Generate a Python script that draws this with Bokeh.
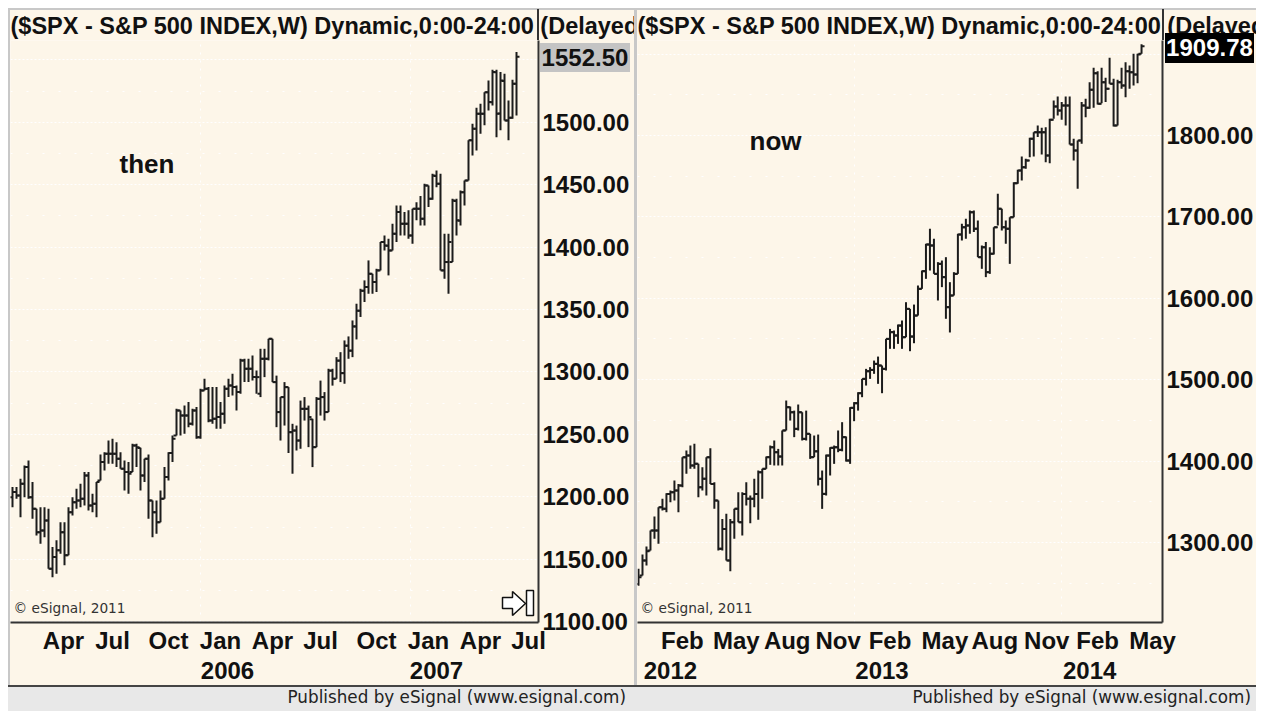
from bokeh.embed import file_html
from bokeh.resources import INLINE
from bokeh.plotting import figure
from bokeh.layouts import row, column
from bokeh.models import (ColumnDataSource, Div, FixedTicker, Label, LinearAxis,
                          Range1d, NumeralTickFormatter, Title)

# ---------- Left chart: S&P 500 weekly bars, Feb 2005 - Jun 2007 ----------
then_high = [1207.7,1207.7,1214.3,1225,1229,1211.7,1190.3,1191.6,1191.6,1190.3,1159.6,1165,1179.6,1179.6,1191.6,1199.6,1206.3,1210.3,1219.7,1219.7,
 1202.3,1211.7,1233.8,1235.7,1245,1246.4,1243.7,1235.7,1229,1227.7,1242.4,1242.4,1239.2,1230.4,1233.8,1197,1197,1205,1223.7,1235.7,
 1249,1270.4,1269,1273,1275.8,1270.4,1271.8,1286.5,1294.5,1287.8,1287.8,1287.8,1275.8,1289,1294.5,1298.5,1289,1310.5,1310.5,1310.5,
 1313.2,1301.1,1318.5,1318.5,1326.5,1326.5,1297,1279.8,1291.8,1287.8,1258.4,1257,1277,1279.8,1273,1262.4,1279.8,1293,1283.8,1302.5,
 1302.5,1311.8,1315.8,1325.2,1328.4,1341.2,1354.6,1366.6,1373.3,1389.3,1378.6,1382.6,1404,1409.3,1406.7,1418.7,1433.4,1433.4,1428,1429.4,
 1430.7,1436,1440.9,1450.7,1449.4,1458.7,1461.4,1458.7,1410.7,1410.7,1438.7,1438.7,1445.4,1453.4,1485.5,1498.8,1511.6,1514.8,1524,1533.5,
 1542,1542,1540.2,1538.9,1517.5,1534,1556.2]
then_low = [1191.6,1198.3,1183.6,1199.6,1198.3,1182.3,1169,1162.3,1167.6,1142.2,1135.5,1138.2,1154.2,1145,1153,1185,1190.3,1191.6,1193,1189,
 1187.6,1183.6,1213,1221,1226.4,1226.4,1223.7,1222.4,1205,1202.3,1219.7,1223.7,1205,1211.7,1182.3,1167.6,1170.3,1179.6,1198.3,1213,
 1227.7,1249,1249,1250.4,1255.7,1257,1246.4,1246.4,1285,1259.7,1258.4,1254.4,1254.4,1258.4,1279.8,1281,1269,1282.5,1291.8,1291.8,
 1293.1,1282.5,1279.8,1295.8,1309.2,1291.8,1255.7,1245,1257,1235,1218.4,1237,1238.4,1261,1239.7,1223.7,1239.7,1265,1261,1267.8,
 1289,1294.5,1291.8,1290.5,1310.5,1311.8,1326,1344,1356,1362.6,1362.6,1364,1381.3,1397.3,1377.3,1397.3,1404,1409.3,1409.3,1406.7,
 1402.7,1421.4,1417.3,1417.3,1432,1438,1448,1381.3,1374.6,1362.6,1388,1409.3,1417.3,1433.4,1453.4,1473.4,1477.4,1490.8,1497.5,1509.5,
 1513.5,1488,1493.5,1501.5,1485.5,1502.8,1505.5]
then_open = [1199.6,1203.7,1201,1210.3,1223.7,1199.6,1190.3,1171.6,1173,1181,1142.2,1151.6,1157,1171.6,1153,1187.6,1195.6,1197,1198.3,1217,
 1193,1194.3,1213,1227.7,1234.4,1234.4,1234.4,1230.4,1222.4,1219.7,1219.7,1241,1239,1217,1230.4,1197,1187.6,1179.6,1198.3,1215.7,
 1235,1249,1269,1265,1265,1258.4,1269,1247.7,1285,1286.5,1261,1262.4,1263.8,1266.4,1286.5,1289,1287.8,1283.8,1309.2,1302.5,
 1302.5,1295.8,1282.5,1310.5,1310.5,1326.5,1291.8,1267.8,1279.8,1287.8,1251.7,1253,1245,1270.4,1270.4,1262,1239.7,1278.4,1279.8,1267.8,
 1301,1294.5,1309,1299,1321,1317,1336.4,1349,1365,1368,1378.6,1372,1381.3,1404,1401,1397.3,1410.7,1428,1418.7,1418.7,
 1409.3,1430.7,1430.7,1422.7,1449.4,1438.7,1457,1450.7,1381.3,1388,1388,1437,1421,1444,1453.4,1485.5,1494.8,1506.8,1506.8,1524,
 1516,1540,1507,1533,1501.5,1503.6,1530.9]
then_close = [1203.7,1201,1210.3,1223.7,1199.6,1190.3,1171.6,1173,1181,1142.2,1151.6,1157,1171.6,1153,1187.6,1195.6,1197,1198.3,1217,1193,
 1194.3,1211.7,1227.7,1234.4,1234.4,1234.4,1230.4,1222.4,1219.7,1218.4,1241,1239.7,1217,1230.4,1197,1187.6,1179.6,1198.3,1215.7,1235,
 1246.4,1269,1265,1265,1258.4,1269,1247.7,1285,1286.5,1261,1262.4,1263.8,1266.4,1286.5,1289,1287.8,1283.8,1309.2,1302.5,1302.5,
 1295.8,1295.8,1310.5,1310.5,1326.5,1291.8,1267.8,1279.8,1287.8,1251.7,1253,1245,1270.4,1270.4,1263.8,1239.7,1278.4,1279.8,1267.8,1301,
 1294.5,1309,1299,1321,1317,1336.4,1349,1365,1368,1378.6,1372,1381.3,1404,1401.3,1397.3,1410.7,1428,1418.7,1418.7,1409.3,
 1430.7,1430.7,1422.7,1449.4,1438.7,1457.4,1450.7,1381.3,1388,1404,1437.4,1421.4,1444,1453.4,1485.5,1494.8,1506.8,1506.8,1524,1516.2,
 1540.2,1506.8,1533.5,1501.5,1503.6,1530.9,1552.5]

# ---------- Right chart: S&P 500 weekly bars, Jan 2012 - May 2014 ----------
now_high = [1267.6,1285.2,1295,1314.7,1331.9,1343.4,1353.6,1360.6,1363.8,1376.1,1372,1404.8,1413,1419.1,1421.2,1396.6,1392.5,1404.8,1415.8,1374,
 1351.6,1329,1335.2,1329,1341.3,1361.8,1361.8,1374,1357.7,1378.2,1388.4,1390.5,1405.6,1419.1,1425.3,1415,1437.6,1474.4,1467,1462,
 1469.5,1460,1462,1433.5,1431.4,1432.6,1388.4,1408,1417,1419.1,1437.6,1447.8,1430.2,1466.2,1472.4,1484.6,1501,1513.3,1515.4,1523.5,
 1528.4,1517.4,1550.2,1562.4,1560.4,1567.8,1572.7,1595.2,1587,1592.3,1615.7,1634.1,1666.9,1685.3,1673,1644.4,1646.4,1650.5,1619.8,1632.1,
 1679.2,1691.5,1697.6,1707.9,1707.9,1695.6,1664.9,1669,1662.8,1687.4,1728.3,1709.9,1695.6,1699.7,1742.7,1757.8,1774.2,1771.3,1797.1,1804.1,
 1812.3,1809.4,1810.2,1820.5,1843,1847.9,1841,1847.9,1847.9,1795.9,1793.9,1841,1845,1865.5,1883.1,1879,1883.1,1870.9,1895.4,1869.6,
 1868.4,1883.1,1890.1,1886,1900.3,1900.3,1912]
now_low = [1247,1259.4,1271.7,1290.1,1304.5,1298.3,1339.3,1337.2,1349.5,1351.6,1337.2,1368,1384.3,1390.5,1390.5,1355.7,1363.8,1357.7,1372,1341.3,
 1290.1,1290.1,1277.8,1264.7,1304.5,1325,1308.6,1345.4,1323.7,1343.4,1327.8,1353.6,1390.5,1395.4,1394.6,1394.6,1394.6,1437.6,1449.8,1429.4,
 1437.6,1425.3,1425.3,1402.7,1404.8,1370,1341.3,1357.7,1382.3,1396.6,1410.9,1412,1399.4,1396.6,1449,1462,1478.5,1492.8,1501,1507.2,
 1494.9,1483.4,1511.3,1537.9,1537.9,1544,1537.9,1552.2,1535,1544.8,1578.8,1611.6,1623.9,1634.1,1630,1597.3,1613.7,1574.8,1558,1603.4,
 1630,1671,1673,1679.2,1681.3,1650.5,1636.2,1626,1630,1653.8,1689.4,1683.3,1667,1642.3,1699.7,1740.6,1744.7,1759,1773.4,1774.2,
 1798,1776.7,1767.2,1766,1820.5,1824.6,1819.3,1812.3,1789,1769.3,1734.5,1789.8,1822.5,1832.8,1834,1838.1,1839.7,1841,1863.5,1811,
 1812.3,1857.3,1847.1,1857.3,1861.4,1864.3,1900.3]
now_open = [1249,1259.4,1277.8,1290.1,1314.7,1314.7,1343.4,1341.3,1359.7,1361.8,1363.8,1370,1404.8,1406.8,1394.6,1396.6,1368,1378.2,1404.8,1372,
 1351.6,1292.2,1316.7,1277.8,1325,1341.3,1325,1359.7,1353.6,1353.6,1359.7,1386.4,1390.5,1404.8,1417,1410.9,1405.6,1437.6,1466.2,1460,
 1439.6,1460,1427.3,1433.5,1404.8,1412,1378.2,1359.7,1406.8,1416.3,1417,1413.8,1429.4,1400.7,1465.4,1471.1,1483.4,1501,1510.4,1512,
 1519.4,1517.4,1513.3,1550,1558.4,1554.3,1566.5,1552.2,1587,1553,1578.8,1611.6,1633.3,1666,1664.8,1630,1642.3,1626,1589.1,1603.4,
 1630,1678.4,1687.4,1689.4,1705.8,1685.3,1650.5,1662.8,1632.1,1654.6,1687.4,1709.9,1687.4,1685.3,1699.7,1741.4,1757,1761.1,1769.3,1795.9,
 1804.1,1804.1,1804.1,1775.4,1819.3,1835.6,1830.7,1836.9,1836.9,1789,1781.6,1793.9,1836.9,1834,1856.1,1876.6,1838.9,1865.5,1857.3,1863.5,
 1812.3,1865.5,1861.4,1879,1877.8,1875,1900.3]
now_close = [1257.4,1277.8,1289.3,1314.7,1314.7,1343.4,1341.3,1359.7,1361.8,1363.8,1370,1404.8,1406.8,1394.6,1396.6,1368,1378.2,1404.8,1372,1351.6,
 1292.2,1316.7,1277.8,1325,1341.3,1325,1359.7,1353.6,1353.6,1359.7,1386.4,1390.5,1404.8,1417,1410.9,1405.6,1437.6,1466.2,1460,1439.6,
 1460,1427.3,1433.5,1404.8,1412,1378.2,1359.7,1406.8,1416.3,1417,1413.8,1429.4,1400.7,1465.4,1471.1,1483.4,1501,1510.4,1512,1519.4,
 1517.4,1513.3,1550.2,1558.4,1554.3,1566.5,1552.2,1587,1553,1578.8,1611.6,1633.3,1666,1664.8,1630,1642.3,1626,1589.1,1603.4,1630,
 1678.4,1687.4,1689.4,1705.8,1685.3,1650.5,1662.8,1632.1,1654.6,1687.4,1709.9,1687.4,1685.3,1699.7,1741.4,1757,1761.1,1769.3,1795.9,1804.1,
 1804.1,1804.1,1775.4,1819.3,1835.6,1830.7,1836.9,1836.9,1789,1781.6,1793.9,1836.9,1834,1856.1,1876.6,1838.9,1865.5,1857.3,1863.5,1812.3,
 1865.5,1861.4,1879,1877.8,1875,1899.5,1909.78]

# ---------- Axis content ----------
then_price_ticks = [1100,1150,1200,1250,1300,1350,1400,1450,1500]
then_grid_ticks = [1100,1150,1200,1250,1300,1350,1400,1450,1500,1550]
then_price_minor = [1125,1175,1225,1275,1325,1375,1425,1475,1525]
now_price_ticks = [1300,1400,1500,1600,1700,1800]
now_grid_ticks = [1300,1400,1500,1600,1700,1800,1900]
now_price_minor = [1250,1350,1450,1550,1650,1750,1850]

then_months = ["Apr","Jul","Oct","Jan","Apr","Jul","Oct","Jan","Apr","Jul"]
then_month_pos = [13.75,26,40,53,66,78,92,105,118,130]
then_years = ["2006","2007"]
then_year_pos = [54.75,107]
then_year_grid = [48,100.5]

now_months = ["Feb","May","Aug","Nov","Feb","May","Aug","Nov","Feb","May"]
now_month_pos = [12,25.5,38.25,51,64,77.75,90.25,103.25,116,129.75]
now_years = ["2012","2013","2014"]
now_year_pos = [9,62,114]
now_year_grid = [55,107]

TITLE = "($SPX - S&P 500 INDEX,W) Dynamic,0:00-24:00 (Delayed)"
FOOT = "Published by eSignal (www.esignal.com)"
CREAM = "#FDF6E9"
DARK = "#1c1c1c"
FONT = "Liberation Sans"
TXT = 24


def pane(fig_w, border_left, border_right, xr, yr, o, h, l, c, ticks, grid_ticks, minor, months, mpos,
         years, ypos, ygrid, note, note_x, note_y, arrow):
    p = figure(width=fig_w, height=677,
               x_range=Range1d(*xr), y_range=Range1d(*yr),
               output_backend="svg", toolbar_location=None, y_axis_location="right",
               background_fill_color=CREAM, border_fill_color=CREAM,
               outline_line_color=None, min_border_left=border_left, min_border_top=32,
               min_border_right=border_right, min_border_bottom=63)
    p.add_layout(Title(text=TITLE, align="left", offset=0, standoff=4,
                       text_font=FONT, text_font_style="bold", text_font_size="23.5px",
                       text_color="#111111"), "above")
    idx = list(range(1, len(h) + 1))
    src = ColumnDataSource(dict(x=idx, h=h, l=l, o=o, c=c,
                                xl=[i - 0.75 for i in idx], xr=[i + 0.75 for i in idx]))
    p.segment("x", "l", "x", "h", source=src, line_color=DARK, line_width=2)
    p.segment("xl", "o", "x", "o", source=src, line_color=DARK, line_width=2)
    p.segment("x", "c", "xr", "c", source=src, line_color=DARK, line_width=2)

    y = p.yaxis[0]
    y.ticker = FixedTicker(ticks=ticks)
    y.formatter = NumeralTickFormatter(format="0.00")
    y.major_tick_line_color = None
    y.minor_tick_line_color = None
    y.major_tick_in = 0
    y.major_tick_out = 0
    y.major_label_standoff = 4
    y.major_label_text_font = FONT
    y.major_label_text_font_style = "bold"
    y.major_label_text_font_size = f"{TXT}px"
    y.major_label_text_color = "#111111"
    y.axis_line_color = "#333333"
    y.axis_line_width = 2

    x = p.xaxis[0]
    x.ticker = FixedTicker(ticks=mpos)
    x.major_label_overrides = {t: m for t, m in zip(mpos, months)}
    x2 = LinearAxis(ticker=FixedTicker(ticks=ypos),
                    major_label_overrides={t: m for t, m in zip(ypos, years)})
    p.add_layout(x2, "below")
    for a in (x, x2):
        a.major_tick_line_color = None
        a.minor_tick_line_color = None
        a.major_tick_in = 0
        a.major_tick_out = 0
        a.major_label_text_font = FONT
        a.major_label_text_font_style = "bold"
        a.major_label_text_font_size = f"{TXT}px"
        a.major_label_text_color = "#111111"
    x.major_label_standoff = 4
    x2.major_label_standoff = 5
    x.axis_line_color = "#333333"
    x.axis_line_width = 2
    x2.axis_line_color = None

    p.ygrid.ticker = FixedTicker(ticks=grid_ticks, minor_ticks=minor)
    p.ygrid.grid_line_color = "#FFFFFF"
    p.ygrid.grid_line_dash = "2 2"
    p.ygrid.minor_grid_line_color = "#FFFFFF"
    p.ygrid.minor_grid_line_dash = "2 14"
    p.xgrid.ticker = FixedTicker(ticks=ygrid)
    p.xgrid.grid_line_color = "#FFFFFF"
    p.xgrid.grid_line_dash = "2 6"

    # Label positions below are in pixels from the frame's lower left corner
    p.add_layout(Label(x=note_x, y=note_y, x_units="screen", y_units="screen", text=note,
                       text_font=FONT, text_font_style="bold", text_font_size="26px",
                       text_color="#111111", text_baseline="middle"))
    p.add_layout(Label(x=3, y=15, x_units="screen", y_units="screen", text="© eSignal, 2011",
                       text_font="DejaVu Sans", text_font_size="13.7px",
                       text_color="#333333", text_baseline="middle"))
    if arrow:
        # the small "scroll to latest" icon in the corner of the left pane
        px = lambda v: xr[0] + (v - 10) / 4
        py = lambda v: yr[0] + (622 - v) * (yr[1] - yr[0]) / 582
        ax = [502, 512, 512, 525, 512, 512, 502]
        ay = [597, 597, 591, 603, 615, 608, 608]
        p.patch([px(v) for v in ax], [py(v) for v in ay],
                fill_color="#FFFFFF", line_color="#111111", line_width=1.5)
        p.patch([px(v) for v in [526, 533, 533, 526]], [py(v) for v in [590, 590, 615, 615]],
                fill_color="#FFFFFF", line_color="#111111", line_width=1.5)
    return p


left = pane(628, 2, 98, (0.5, 132.5), (1099.2, 1565.5),
            then_open, then_high, then_low, then_close, then_price_ticks, then_grid_ticks, then_price_minor,
            then_months, then_month_pos, then_years, then_year_pos, then_year_grid,
            "then", 109, 459, True)
right = pane(620, 1, 93, (0.75, 132.25), (1201.7, 1916.7),
             now_open, now_high, now_low, now_close, now_price_ticks, now_grid_ticks, now_price_minor,
             now_months, now_month_pos, now_years, now_year_pos, now_year_grid,
             "now", 112, 482, False)


def footer(w, pad):
    return Div(text=FOOT, width=w, height=26, margin=0,
               styles={"background-color": "#E8E8E8", "border-top": "2px solid #444444",
                       "text-align": "right", "padding-right": f"{pad}px",
                       "font-family": "DejaVu Sans", "font-size": "16.8px", "color": "#222222",
                       "box-sizing": "border-box", "line-height": "20px",
                       "width": f"{w}px", "height": "26px", "overflow": "hidden"})


def overlay(x, y, w, h, bg, text="", fg="#111111"):
    # an element laid over the panes; x and y are page pixels
    return Div(text=text, width=w, height=h, margin=0,
               styles={"position": "absolute", "left": f"{x - 8}px", "top": f"{y - 8}px",
                       "width": f"{w}px", "height": f"{h}px", "background-color": bg, "color": fg,
                       "font-family": FONT, "font-weight": "bold", "font-size": f"{TXT}px",
                       "line-height": f"{h}px", "text-align": "center", "overflow": "hidden"})


page = row(column(left, footer(628, 10), spacing=0), column(right, footer(620, 5), spacing=0),
           overlay(8, 8, 2, 677, "#C8C8C8"), overlay(634, 8, 3, 677, "#C8C8C8"),
           overlay(8, 8, 1248, 2, "#C8C8C8"),
           overlay(537, 9, 2, 31, "#333333"), overlay(1162, 9, 2, 31, "#333333"),
           overlay(540, 43, 90, 29, "#C4C4C4", "1552.50"),
           overlay(1165, 33, 89, 30, "#000000", "1909.78", "#FFFFFF"),
           spacing=0, margin=(8, 0, 0, 8))
open("out.html", "w").write(file_html(page, INLINE))
